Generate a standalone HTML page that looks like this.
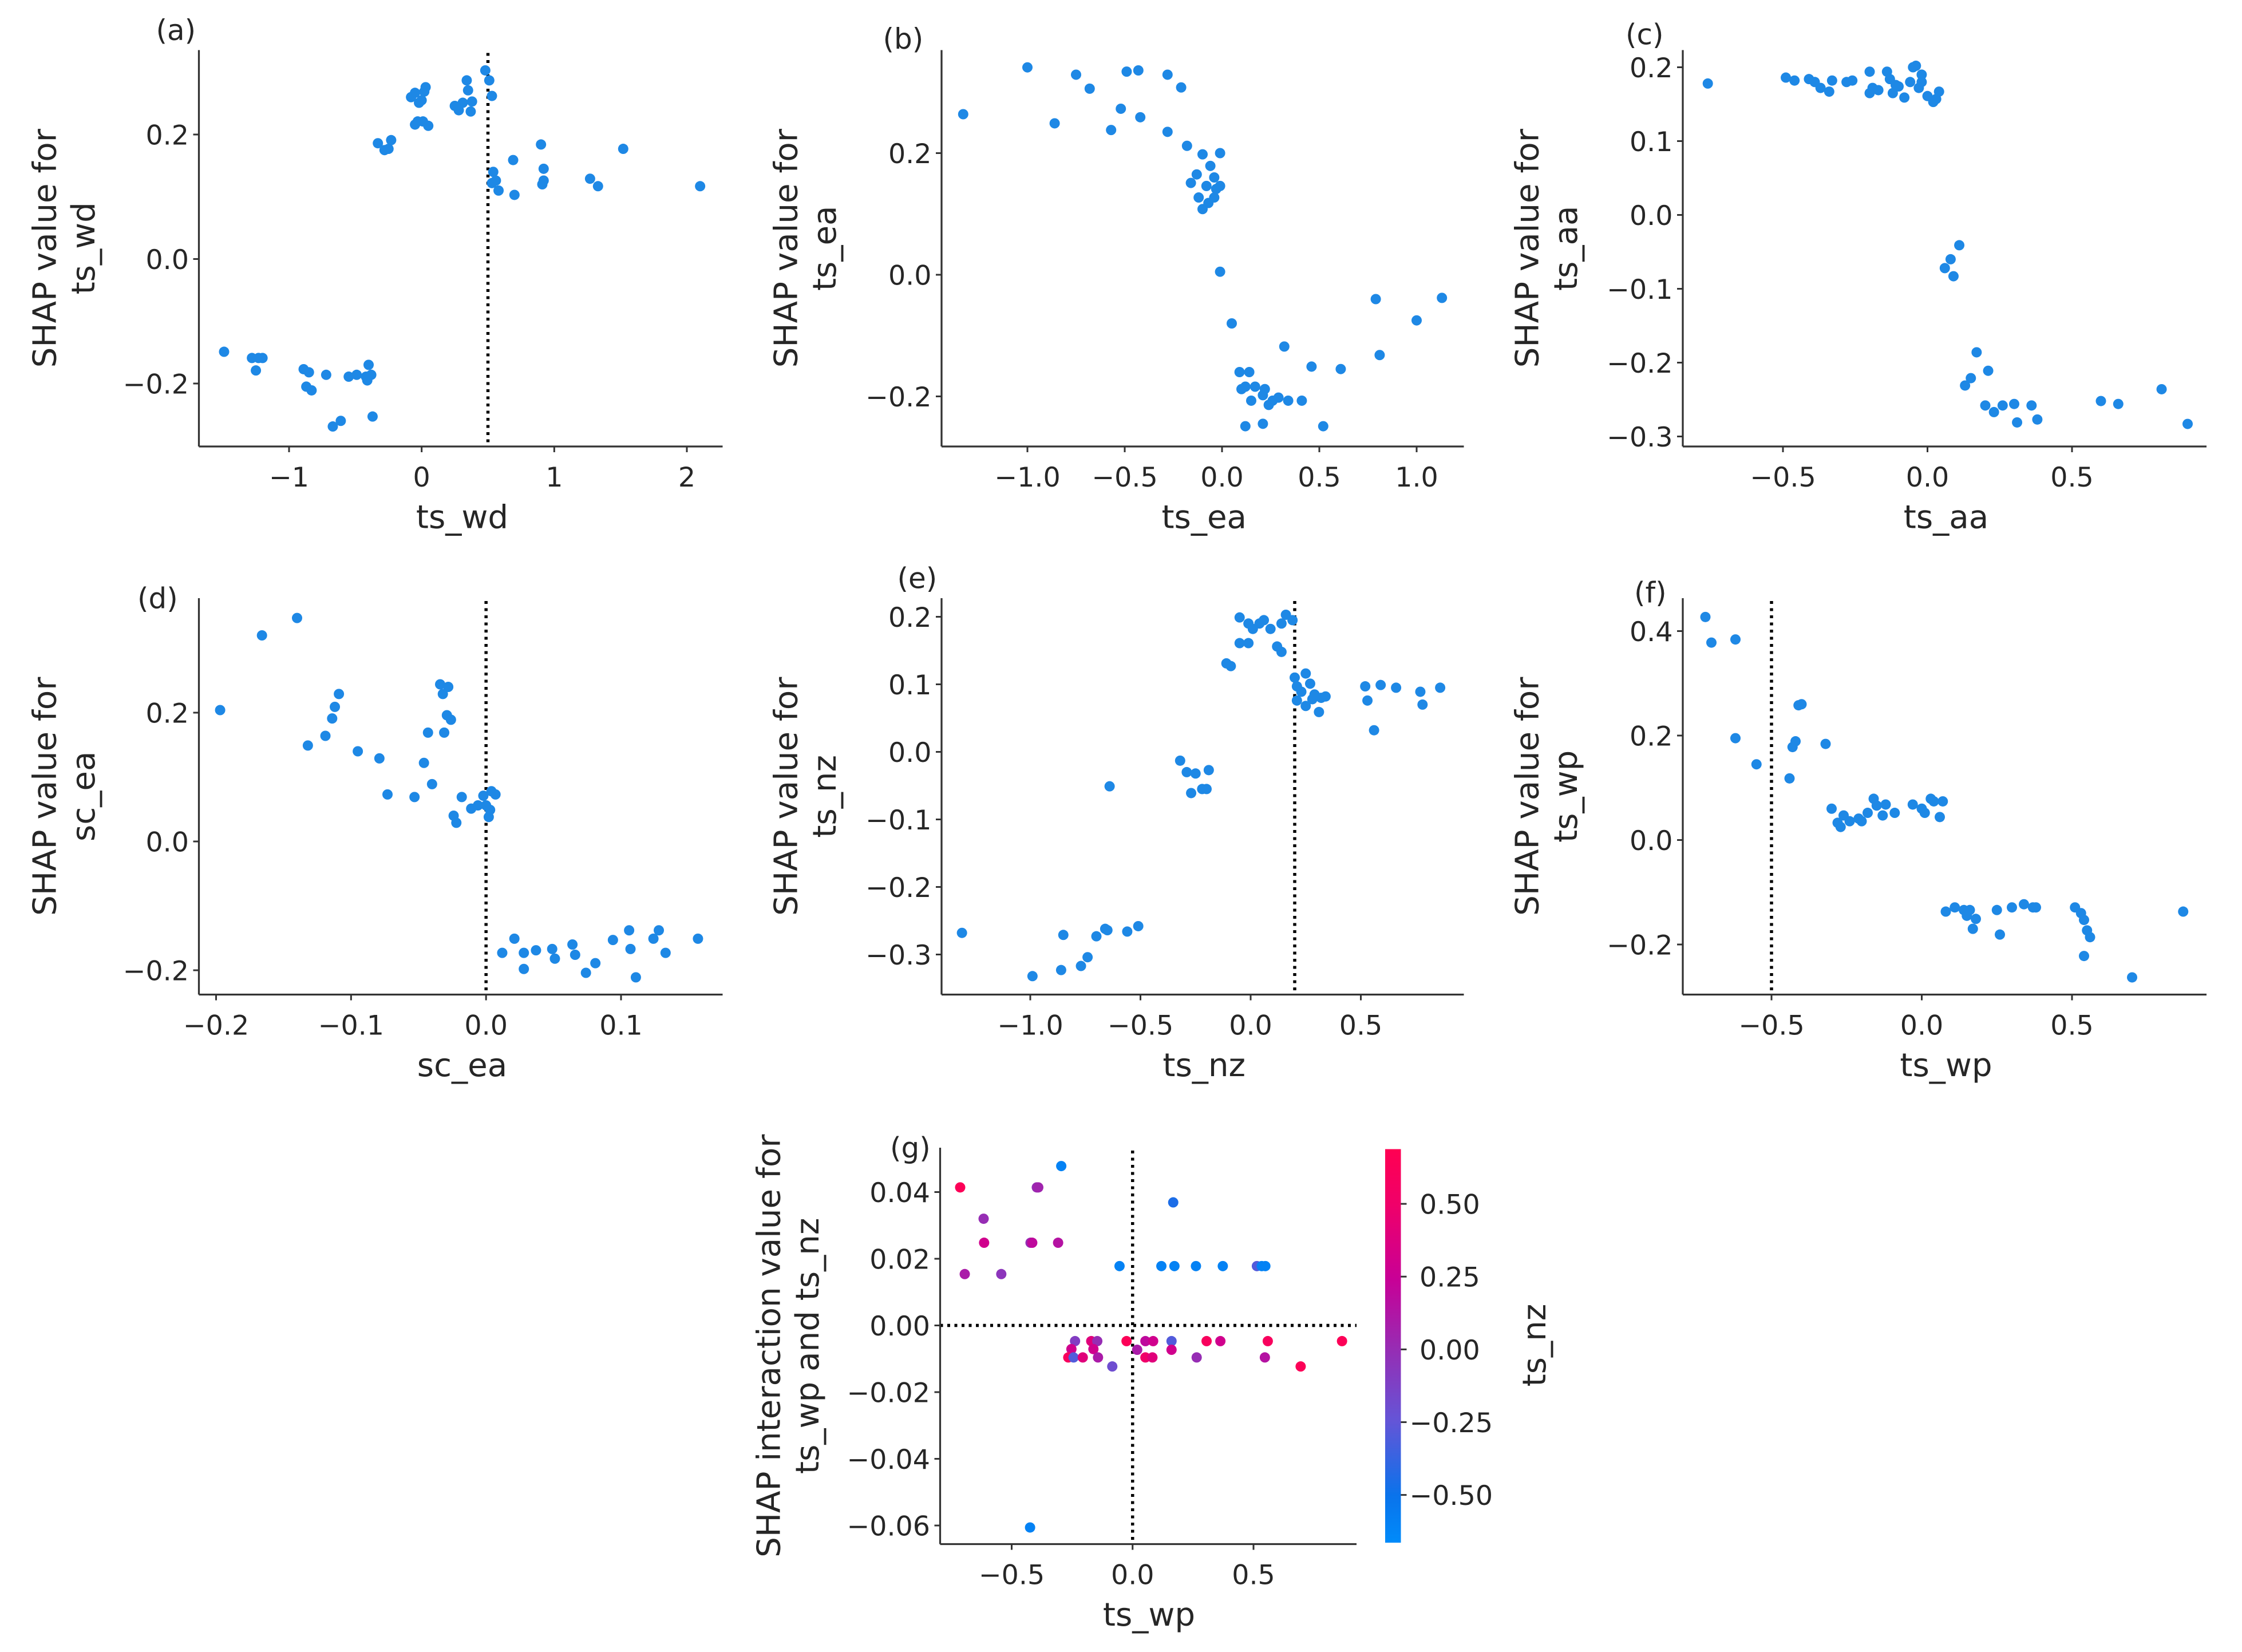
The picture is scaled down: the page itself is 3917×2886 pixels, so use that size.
<!DOCTYPE html>
<html><head><meta charset="utf-8">
<style>
html,body{margin:0;padding:0;background:#fff;}
svg{display:block;}
text{font-family:"DejaVu Sans","Liberation Sans",sans-serif;fill:#262626;}
</style></head>
<body>
<svg id="fig" xmlns="http://www.w3.org/2000/svg" width="3917" height="2886" viewBox="0 0 1566.8 1154.4">
<defs>
<linearGradient id="cbgrad" x1="0" y1="1" x2="0" y2="0">
<stop offset="0" stop-color="rgb(0,139,250)"/>
<stop offset="0.12" stop-color="rgb(10,115,235)"/>
<stop offset="0.31" stop-color="rgb(100,85,215)"/>
<stop offset="0.49" stop-color="rgb(150,45,180)"/>
<stop offset="0.67" stop-color="rgb(200,0,150)"/>
<stop offset="0.86" stop-color="rgb(240,0,105)"/>
<stop offset="1" stop-color="rgb(255,0,82)"/>
</linearGradient>
</defs>
</svg>
<script>
// ---- data ----
const aX=[-1.49,-1.28,-1.23,-1.25,-1.20,-0.89,-0.85,-0.87,-0.83,-0.72,-0.67,-0.61,-0.55,-0.49,-0.42,-0.38,-0.41,-0.40,-0.37,-0.33,-0.28,-0.23,-0.25,-0.08,-0.05,-0.02,0.0,0.02,-0.03,-0.05,0.01,0.05,0.03,0.25,0.28,0.31,0.37,0.34,0.35,0.38,0.48,0.51,0.53,0.54,0.56,0.58,0.53,0.69,0.70,0.90,0.92,0.92,0.91,1.27,1.33,1.52,2.10];
const aY=[-0.149,-0.159,-0.159,-0.179,-0.159,-0.177,-0.182,-0.205,-0.211,-0.186,-0.269,-0.260,-0.189,-0.186,-0.189,-0.186,-0.195,-0.170,-0.253,0.186,0.175,0.191,0.177,0.260,0.267,0.251,0.255,0.269,0.221,0.216,0.221,0.214,0.276,0.246,0.239,0.251,0.237,0.287,0.271,0.253,0.303,0.287,0.262,0.140,0.126,0.110,0.122,0.159,0.103,0.184,0.145,0.126,0.120,0.129,0.117,0.177,0.117];
const bX=[-1.33,-1.00,-0.86,-0.75,-0.68,-0.57,-0.52,-0.49,-0.42,-0.43,-0.28,-0.21,-0.28,-0.18,-0.10,-0.01,-0.16,-0.13,-0.12,-0.08,-0.06,-0.04,-0.03,-0.07,-0.10,-0.04,-0.01,-0.01,0.05,0.09,0.10,0.14,0.12,0.17,0.15,0.21,0.24,0.22,0.29,0.26,0.32,0.34,0.41,0.46,0.52,0.61,0.79,0.81,1.00,1.13,0.12,0.21];
const bY=[0.264,0.341,0.249,0.329,0.306,0.238,0.273,0.334,0.259,0.336,0.329,0.308,0.235,0.212,0.198,0.200,0.151,0.165,0.127,0.146,0.179,0.160,0.141,0.118,0.108,0.127,0.146,0.005,-0.080,-0.160,-0.188,-0.160,-0.184,-0.184,-0.207,-0.198,-0.214,-0.188,-0.202,-0.207,-0.118,-0.207,-0.207,-0.151,-0.249,-0.155,-0.040,-0.132,-0.075,-0.038,-0.249,-0.245];
const cX=[-0.76,-0.49,-0.46,-0.41,-0.39,-0.37,-0.34,-0.33,-0.28,-0.26,-0.20,-0.19,-0.20,-0.17,-0.14,-0.13,-0.11,-0.12,-0.10,-0.08,-0.06,-0.05,-0.04,-0.03,-0.02,-0.02,0.00,0.02,0.03,0.04,0.06,0.08,0.09,0.11,0.13,0.15,0.17,0.21,0.20,0.23,0.26,0.30,0.31,0.36,0.38,0.60,0.66,0.81,0.90];
const cY=[0.178,0.186,0.182,0.184,0.180,0.172,0.167,0.182,0.180,0.182,0.194,0.172,0.165,0.169,0.194,0.184,0.176,0.165,0.174,0.159,0.180,0.200,0.202,0.172,0.190,0.180,0.161,0.153,0.157,0.167,-0.072,-0.060,-0.083,-0.041,-0.231,-0.221,-0.186,-0.211,-0.258,-0.267,-0.258,-0.256,-0.281,-0.258,-0.277,-0.252,-0.256,-0.236,-0.283];
const dX=[-0.197,-0.166,-0.140,-0.132,-0.119,-0.114,-0.112,-0.109,-0.095,-0.079,-0.073,-0.053,-0.046,-0.043,-0.040,-0.034,-0.032,-0.028,-0.026,-0.029,-0.031,-0.024,-0.022,-0.018,-0.011,-0.006,-0.002,0.002,0.000,0.004,0.007,0.003,0.012,0.021,0.028,0.028,0.037,0.049,0.051,0.064,0.066,0.074,0.081,0.094,0.106,0.107,0.111,0.124,0.128,0.133,0.157];
const dY=[0.204,0.320,0.347,0.149,0.164,0.191,0.209,0.229,0.140,0.129,0.073,0.069,0.122,0.169,0.089,0.244,0.229,0.240,0.189,0.196,0.169,0.040,0.029,0.069,0.051,0.056,0.071,0.038,0.056,0.078,0.073,0.049,-0.173,-0.151,-0.173,-0.198,-0.169,-0.167,-0.182,-0.160,-0.176,-0.204,-0.189,-0.153,-0.138,-0.167,-0.211,-0.151,-0.138,-0.173,-0.151];
const eX=[-1.31,-0.99,-0.86,-0.85,-0.77,-0.74,-0.70,-0.66,-0.65,-0.56,-0.51,-0.64,-0.32,-0.29,-0.25,-0.27,-0.22,-0.20,-0.19,-0.11,-0.09,-0.05,-0.05,-0.01,0.01,-0.01,0.04,0.06,0.09,0.12,0.14,0.16,0.14,0.19,0.20,0.25,0.21,0.21,0.23,0.25,0.27,0.28,0.29,0.32,0.31,0.34,0.52,0.53,0.56,0.59,0.66,0.77,0.78,0.86];
const eY=[-0.268,-0.332,-0.323,-0.271,-0.317,-0.304,-0.273,-0.262,-0.264,-0.266,-0.258,-0.051,-0.013,-0.030,-0.032,-0.061,-0.055,-0.055,-0.027,0.131,0.127,0.161,0.199,0.190,0.182,0.161,0.190,0.195,0.182,0.156,0.190,0.203,0.148,0.195,0.110,0.116,0.097,0.076,0.089,0.068,0.101,0.078,0.085,0.080,0.059,0.082,0.097,0.076,0.032,0.099,0.095,0.089,0.070,0.095];
const fX=[-0.72,-0.70,-0.62,-0.62,-0.55,-0.44,-0.43,-0.42,-0.41,-0.40,-0.32,-0.30,-0.28,-0.27,-0.26,-0.24,-0.21,-0.20,-0.18,-0.16,-0.15,-0.13,-0.12,-0.09,-0.03,0.00,0.01,0.03,0.04,0.06,0.07,0.08,0.11,0.14,0.15,0.17,0.16,0.18,0.25,0.26,0.30,0.34,0.37,0.38,0.51,0.53,0.54,0.55,0.56,0.54,0.70,0.87];
const fY=[0.427,0.378,0.384,0.195,0.145,0.118,0.178,0.189,0.258,0.260,0.184,0.060,0.033,0.025,0.047,0.036,0.041,0.036,0.052,0.079,0.066,0.047,0.068,0.052,0.068,0.060,0.052,0.079,0.074,0.044,0.074,-0.137,-0.129,-0.134,-0.145,-0.170,-0.134,-0.151,-0.134,-0.181,-0.129,-0.123,-0.129,-0.129,-0.129,-0.140,-0.153,-0.173,-0.186,-0.222,-0.263,-0.137];
const gX=[-0.713,-0.616,-0.614,-0.422,-0.415,-0.396,-0.390,-0.308,-0.694,-0.543,-0.295,-0.054,0.119,0.173,0.262,0.373,0.514,0.534,0.549,0.168,-0.238,-0.171,-0.146,-0.253,-0.266,-0.244,-0.206,-0.162,-0.143,-0.084,-0.025,0.019,0.053,0.085,0.053,0.082,0.161,0.161,0.306,0.363,0.265,0.559,0.547,0.695,0.866,-0.424];
const gY=[0.0414,0.032,0.0248,0.0248,0.0248,0.0414,0.0414,0.0248,0.0154,0.0154,0.0478,0.0178,0.0178,0.0178,0.0178,0.0178,0.0178,0.0178,0.0178,0.0369,-0.0047,-0.0047,-0.0047,-0.0071,-0.0096,-0.0096,-0.0096,-0.0071,-0.0096,-0.0123,-0.0047,-0.0073,-0.0047,-0.0047,-0.0096,-0.0096,-0.0047,-0.0073,-0.0047,-0.0047,-0.0096,-0.0047,-0.0096,-0.0123,-0.0047,-0.0606];
const gC=[0.65,0.0,0.3,0.0,0.2,0.0,0.05,0.15,0.1,-0.05,-0.6,-0.6,-0.6,-0.6,-0.6,-0.6,-0.3,-0.6,-0.6,-0.45,-0.1,0.4,0.0,0.3,0.6,-0.3,0.4,0.3,0.1,-0.2,0.65,0.1,0.2,0.3,0.5,0.4,-0.3,0.3,0.6,0.3,0.0,0.6,0.15,0.65,0.65,-0.6];
const cbTicks=[0.5,0.25,0,-0.25,-0.5];

const NS='http://www.w3.org/2000/svg';
const svg=document.getElementById('fig');
function mk(tag,attrs,parent){const e=document.createElementNS(NS,tag);for(const k in attrs)e.setAttribute(k,attrs[k]);(parent||svg).appendChild(e);return e;}
function fmt(v,d){const s=Math.abs(v).toFixed(d);return (v<-1e-9?'\u2212':'')+s;}
const stops=[[-0.664,[0,139,250]],[-0.5,[10,115,235]],[-0.25,[100,85,215]],[0,[150,45,180]],[0.25,[200,0,150]],[0.5,[240,0,105]],[0.688,[255,0,82]]];
function cmap(v){if(v<=stops[0][0])return 'rgb('+stops[0][1]+')';for(let i=1;i<stops.length;i++){if(v<=stops[i][0]){const t=(v-stops[i-1][0])/(stops[i][0]-stops[i-1][0]);const a=stops[i-1][1],b=stops[i][1];return 'rgb('+a.map((c,j)=>Math.round(c+(b[j]-c)*t)).join(',')+')';}}return 'rgb('+stops[stops.length-1][1]+')';}

const panels=[
{id:'a',L:139,R:505,T:35,B:312,xa:[-1,202],xb:[2,480],ya:[0.2,94],yb:[-0.2,268],xt:[-1,0,1,2],xd:0,yt:[-0.2,0,0.2],yd:1,vl:0.5,X:aX,Y:aY,lab:[109,28],xl:'ts_wd',yl:['SHAP value for','ts_wd'],ylx:31},
{id:'b',L:658,R:1023,T:35,B:312,xa:[-1,718],xb:[1,990],ya:[0.2,107],yb:[-0.2,277],xt:[-1,-0.5,0,0.5,1],xd:1,yt:[-0.2,0,0.2],yd:1,X:bX,Y:bY,lab:[617,34],xl:'ts_ea',yl:['SHAP value for','ts_ea'],ylx:549},
{id:'c',L:1176,R:1542,T:35,B:312,xa:[-0.5,1246],xb:[0.5,1448],ya:[0.2,47],yb:[-0.3,305],xt:[-0.5,0,0.5],xd:1,yt:[-0.3,-0.2,-0.1,0,0.1,0.2],yd:1,X:cX,Y:cY,lab:[1136,31],xl:'ts_aa',yl:['SHAP value for','ts_aa'],ylx:1067},
{id:'d',L:139,R:505,T:418,B:695,xa:[-0.2,151],xb:[0.1,434],ya:[0.2,498],yb:[-0.2,678],xt:[-0.2,-0.1,0,0.1],xd:1,yt:[-0.2,0,0.2],yd:1,vl:0,X:dX,Y:dY,lab:[96,425],xl:'sc_ea',yl:['SHAP value for','sc_ea'],ylx:31},
{id:'e',L:658,R:1023,T:418,B:695,xa:[-1,720],xb:[0.5,951],ya:[0.2,431],yb:[-0.3,667],xt:[-1,-0.5,0,0.5],xd:1,yt:[-0.3,-0.2,-0.1,0,0.1,0.2],yd:1,vl:0.2,X:eX,Y:eY,lab:[627,411],xl:'ts_nz',yl:['SHAP value for','ts_nz'],ylx:549},
{id:'f',L:1176,R:1542,T:418,B:695,xa:[-0.5,1238],xb:[0.5,1448],ya:[0.4,441],yb:[-0.2,660],xt:[-0.5,0,0.5],xd:1,yt:[-0.2,0,0.2,0.4],yd:1,vl:-0.5,X:fX,Y:fY,lab:[1142,421],xl:'ts_wp',yl:['SHAP value for','ts_wp'],ylx:1067},
{id:'g',L:657,R:948,T:802,B:1079,xa:[-0.5,707],xb:[0.5,876],ya:[0.04,833],yb:[-0.06,1066],xt:[-0.5,0,0.5],xd:1,yt:[-0.06,-0.04,-0.02,0,0.02,0.04],yd:2,vl:0,hl:0,X:gX,Y:gY,C:gC,lab:[622,809],xl:'ts_wp',yl:['SHAP interaction value for','ts_wp and ts_nz'],ylx:537}
];

panels.forEach(p=>{
  const g=mk('g',{});
  
  
  const sx=v=>p.xa[1]+(v-p.xa[0])*(p.xb[1]-p.xa[1])/(p.xb[0]-p.xa[0]);
  const sy=v=>p.ya[1]+(v-p.ya[0])*(p.yb[1]-p.ya[1])/(p.yb[0]-p.ya[0]);
  if(p.vl!==undefined){const l=mk('line',{x1:sx(p.vl),x2:sx(p.vl),y1:p.T+2,y2:p.B,stroke:'#000','stroke-width':2.2,'stroke-dasharray':'2 3'},g);}
  if(p.hl!==undefined){const l=mk('line',{x1:p.L,x2:p.R,y1:sy(p.hl),y2:sy(p.hl),stroke:'#000','stroke-width':2.2,'stroke-dasharray':'2 3'},g);}
  p.X.forEach((xv,i)=>{
    const c=mk('circle',{cx:sx(xv),cy:sy(p.Y[i]),r:3.6,fill:p.C?cmap(p.C[i]):'#1e88e5'},g);
    
    
  });
  const sl=mk('line',{x1:p.L,x2:p.L,y1:p.T,y2:p.B,stroke:'#333','stroke-width':1.3},g);
  
  const sb=mk('line',{x1:p.L,x2:p.R,y1:p.B,y2:p.B,stroke:'#333','stroke-width':1.3},g);
  
  p.xt.forEach(v=>{
    const x=sx(v);
    mk('line',{x1:x,x2:x,y1:p.B,y2:p.B+4,stroke:'#333','stroke-width':1.2},g);
    const t=mk('text',{x:x,y:p.B+28,'text-anchor':'middle','font-size':19},g);
    t.textContent=(v===0&&p.xd===0)?'0':fmt(v,p.xd);
    
  });
  p.yt.forEach(v=>{
    const y=sy(v);
    mk('line',{x1:p.L-4,x2:p.L,y1:y,y2:y,stroke:'#333','stroke-width':1.2},g);
    const t=mk('text',{x:p.L-7,y:y+7,'text-anchor':'end','font-size':19},g);
    t.textContent=fmt(v,p.yd);
    
  });
  const lb=mk('text',{x:p.lab[0],y:p.lab[1],'font-size':20},g);
  lb.textContent='('+p.id+')';
  
  const xl=mk('text',{x:(p.id==='g'?803:(p.L+p.R)/2+1),y:p.B+57,'text-anchor':'middle','font-size':22.5},g);
  xl.textContent=p.xl;
  
  const cy=(p.T+p.B)/2;
  p.yl.forEach((s,k)=>{
    const x=p.ylx+k*27;
    const t=mk('text',{x:x,y:cy,'text-anchor':'middle','font-size':22.5,transform:'rotate(-90 '+x+' '+cy+')',dy:8},g);
    t.textContent=s;
    
  });
});

const cbG=mk('g',{});


const cbTop=803,cbBot=1078,cbV0=0.688,cbV1=-0.664;
const cby=v=>cbTop+(v-cbV0)*(cbBot-cbTop)/(cbV1-cbV0);
mk('rect',{x:968,y:cbTop,width:11,height:cbBot-cbTop,fill:'url(#cbgrad)'},cbG);
cbTicks.forEach(v=>{
  const y=cby(v);
  mk('line',{x1:979,x2:983,y1:y,y2:y,stroke:'#333','stroke-width':1.2},cbG);
  const t=mk('text',{x:(v<0?985:992),y:y+7,'font-size':19},cbG);
  t.textContent=fmt(v,2);
  
});
const ct=mk('text',{x:1072,y:940,'text-anchor':'middle','font-size':22.5,transform:'rotate(-90 1072 940)',dy:8},cbG);
ct.textContent='ts_nz';


</script>
</body></html>
